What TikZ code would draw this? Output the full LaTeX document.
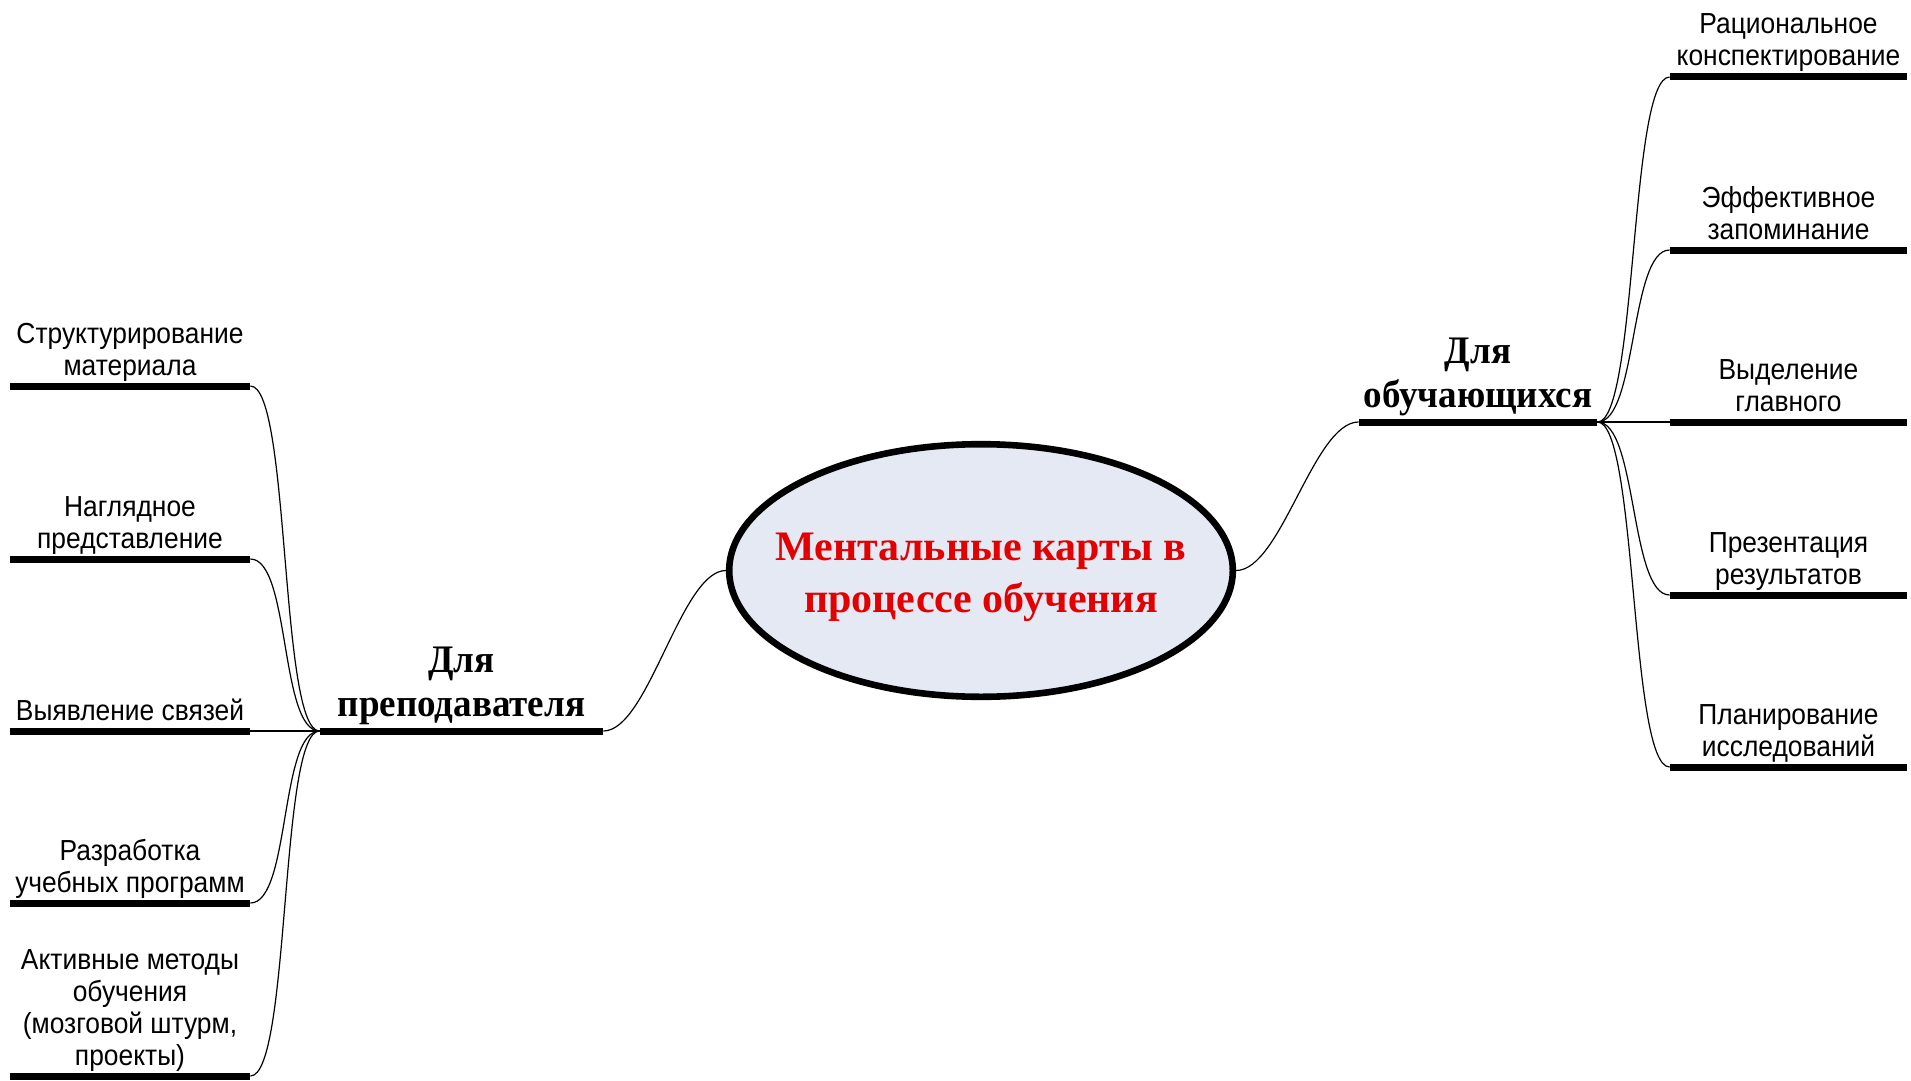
\documentclass[tikz,border=0pt]{standalone}
\usepackage{fontspec}
\setmainfont{Liberation Serif}
\newfontfamily\leaffont[FakeStretch=0.91]{Liberation Sans}
\newfontfamily\branchfont[FakeStretch=0.95]{Liberation Serif}
\usetikzlibrary{shapes.geometric}
\definecolor{mapfill}{RGB}{228,233,244}
\definecolor{mapred}{RGB}{226,0,0}
\tikzset{
  leaf/.style={anchor=south, align=center, minimum width=120pt, inner xsep=0pt,
    inner ysep=0.5pt, font=\leaffont\fontsize{14.5}{16}\selectfont,
    execute at end node=\strut},
  branch/.style={anchor=south, align=center, inner xsep=0pt, inner ysep=0.6pt,
    font=\branchfont\bfseries\fontsize{19.5}{22}\selectfont,
    execute at end node=\strut},
  bar/.style={line width=3.5pt},
  link/.style={line width=0.6pt},
}
\begin{document}
\begin{tikzpicture}[x=0.5pt, y=-0.5pt]
      \useasboundingbox (0,0) rectangle (1911,1081);
      \node[ellipse, draw, line width=3.3pt, fill=mapfill, minimum width=251.8pt,
        minimum height=126.3pt, inner xsep=-20pt, inner ysep=0pt, align=center,
        text=mapred, font=\bfseries\fontsize{21}{26}\selectfont]
        (map) at (981,570.5) {\rule{0pt}{21pt}Ментальные карты в\\процессе обучения};
      \draw
        (461.5,731) node[branch, minimum width=141.5pt] (teacher){Для\\преподавателя}
        (1478,422) node[branch, minimum width=119pt] (learner){Для\\обучающихся};
      \draw
        (130,386) node[leaf] (l1){Структурирование\\материала}
        (130,559) node[leaf] (l2){Наглядное\\представление}
        (130,731) node[leaf] (l3){Выявление связей}
        (130,903) node[leaf] (l4){Разработка\\учебных программ}
        (130,1076) node[leaf] (l5){Активные методы\\обучения\\(мозговой штурм,\\проекты)};
      \draw
        (1788.5,77) node[leaf, minimum width=118.5pt] (r1){Рациональное\\конспектирование}
        (1788.5,250) node[leaf, minimum width=118.5pt] (r2){Эффективное\\запоминание}
        (1788.5,422) node[leaf, minimum width=118.5pt] (r3){Выделение\\главного}
        (1788.5,595) node[leaf, minimum width=118.5pt] (r4){Презентация\\результатов}
        (1788.5,767) node[leaf, minimum width=118.5pt] (r5){Планирование\\исследований};
      % underlines
      \begin{scope}[bar]
        \draw (teacher.south west) -- (teacher.south east);
        \draw (learner.south west) -- (learner.south east);
        \draw (l1.south west) -- (l1.south east);
        \draw (l2.south west) -- (l2.south east);
        \draw (l3.south west) -- (l3.south east);
        \draw (l4.south west) -- (l4.south east);
        \draw (l5.south west) -- (l5.south east);
        \draw (r1.south west) -- (r1.south east);
        \draw (r2.south west) -- (r2.south east);
        \draw (r3.south west) -- (r3.south east);
        \draw (r4.south west) -- (r4.south east);
        \draw (r5.south west) -- (r5.south east);
      \end{scope}
      \begin{scope}[link]
        \draw (map.west) .. controls +(-45,0) and +(45,0) .. (teacher.south east);
        \draw (map.east) .. controls +(45,0) and +(-45,0) .. (learner.south west);
        \draw (teacher.south west) .. controls +(-40,0) and +(40,0) .. (l1.south east);
        \draw (teacher.south west) .. controls +(-40,0) and +(40,0) .. (l2.south east);
        \draw (teacher.south west) .. controls +(-40,0) and +(40,0) .. (l3.south east);
        \draw (teacher.south west) .. controls +(-40,0) and +(40,0) .. (l4.south east);
        \draw (teacher.south west) .. controls +(-40,0) and +(40,0) .. (l5.south east);
        \draw (learner.south east) .. controls +(40,0) and +(-40,0) .. (r1.south west);
        \draw (learner.south east) .. controls +(40,0) and +(-40,0) .. (r2.south west);
        \draw (learner.south east) .. controls +(40,0) and +(-40,0) .. (r3.south west);
        \draw (learner.south east) .. controls +(40,0) and +(-40,0) .. (r4.south west);
        \draw (learner.south east) .. controls +(40,0) and +(-40,0) .. (r5.south west);
      \end{scope}
    \end{tikzpicture}
\end{document}
